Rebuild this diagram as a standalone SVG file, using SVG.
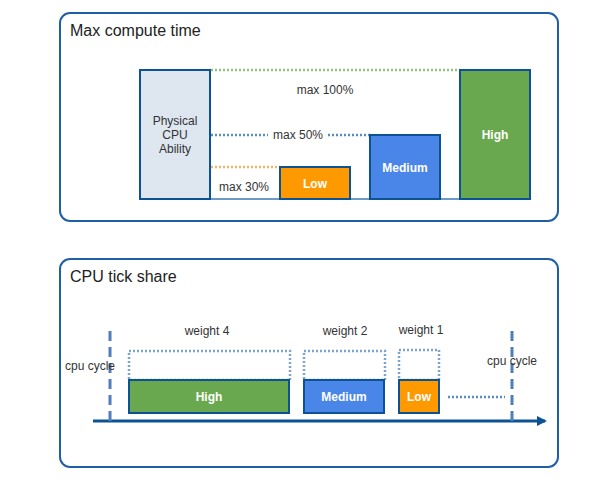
<svg xmlns="http://www.w3.org/2000/svg" width="606" height="488" viewBox="0 0 606 488">
<style>
text{font-family:"Liberation Sans",Arial,sans-serif;font-size:12px;fill:#333;text-anchor:middle}
.title{font-size:16px;text-anchor:start;fill:#222}
.w{fill:#fff;font-weight:bold}
.panel{fill:#fff;stroke:#1f5fa6;stroke-width:2}
.box{stroke:#0b5394;stroke-width:2}
.dot{fill:none;stroke-width:2.5;stroke-dasharray:2 2}
.dash{stroke:#4f7fb8;stroke-width:3;stroke-dasharray:10 6}
</style>
<defs><marker id="ah" markerWidth="10" markerHeight="10" refX="8" refY="5" orient="auto" markerUnits="userSpaceOnUse"><path d="M0,0 L10,5 L0,10 z" fill="#0b5394"/></marker></defs>
<g id="panel1"><rect class="panel" x="60" y="13" width="498" height="208" rx="10"/><text class="title" x="70" y="36">Max compute time</text></g>
<g id="panel2"><rect class="panel" x="60" y="259" width="498" height="208" rx="10"/><text class="title" x="70" y="282">CPU tick share</text></g>
<g id="connectors">
<line x1="210" y1="199" x2="460" y2="199" stroke="#6d9ac9" stroke-width="2"/>
<line class="dot" x1="211" y1="70" x2="460" y2="70" stroke="#93c47d"/>
<line class="dot" x1="211" y1="135" x2="268" y2="135" stroke="#5b8ac2"/>
<line class="dot" x1="328" y1="135" x2="370" y2="135" stroke="#5b8ac2"/>
<line class="dot" x1="211" y1="167" x2="280" y2="167" stroke="#f6b26b"/>
<line x1="93" y1="421" x2="545" y2="421" stroke="#0b5394" stroke-width="3" marker-end="url(#ah)"/>
<line class="dash" x1="110" y1="331" x2="110" y2="421"/>
<line class="dash" x1="512" y1="331" x2="512" y2="421"/>
<line class="dot" x1="448" y1="397" x2="505" y2="397" stroke="#5b8ac2" stroke-width="2"/>
<rect class="dot" x="129" y="351" width="161" height="29" stroke="#7ea3cf" stroke-width="2"/>
<rect class="dot" x="304" y="351" width="81" height="29" stroke="#7ea3cf" stroke-width="2"/>
<rect class="dot" x="399" y="350" width="40" height="30" stroke="#7ea3cf" stroke-width="2"/>
</g>
<g id="physical"><rect class="box" x="140" y="70" width="70" height="129" fill="#dee6f0"/><text x="175" y="125">Physical</text><text x="175" y="139">CPU</text><text x="175" y="153">Ability</text></g>
<g id="high1"><rect class="box" x="460" y="70" width="70" height="129" fill="#6aa84f"/><text class="w" x="495" y="139">High</text></g>
<g id="medium1"><rect class="box" x="370" y="135" width="70" height="64" fill="#4a86e8"/><text class="w" x="405" y="172">Medium</text></g>
<g id="low1"><rect class="box" x="280" y="167" width="70" height="32" fill="#ff9900"/><text class="w" x="315" y="188">Low</text></g>
<text x="325" y="94">max 100%</text>
<text x="298" y="139">max 50%</text>
<text x="244" y="191">max 30%</text>
<g id="high2"><rect class="box" x="129" y="380" width="160" height="33" fill="#6aa84f"/><text class="w" x="209" y="401">High</text></g>
<g id="medium2"><rect class="box" x="304" y="380" width="80" height="33" fill="#4a86e8"/><text class="w" x="344" y="401">Medium</text></g>
<g id="low2"><rect class="box" x="399" y="380" width="40" height="33" fill="#ff9900"/><text class="w" x="419" y="401">Low</text></g>
<text x="207" y="335">weight 4</text>
<text x="345" y="335">weight 2</text>
<text x="421" y="334">weight 1</text>
<text x="90" y="370">cpu cycle</text>
<text x="512" y="365">cpu cycle</text>
</svg>
